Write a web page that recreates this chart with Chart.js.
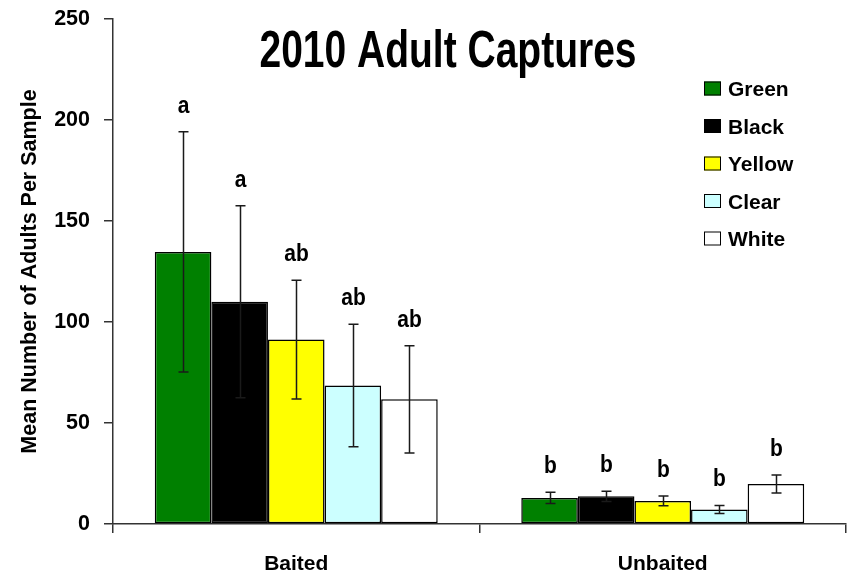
<!DOCTYPE html>
<html>
<head>
<meta charset="utf-8">
<script src="https://cdn.jsdelivr.net/npm/chart.js@4/dist/chart.umd.min.js"></script>
<style>
  html, body { margin: 0; padding: 0; background: #ffffff; }
  #wrap { width: 855px; height: 580px; }
</style>
</head>
<body>
<div id="wrap"><canvas id="chart" width="855" height="580"></canvas></div>
<script>
// Trap treatments and trap colours
const groups = ['Baited', 'Unbaited'];
const trapColours = ['Green', 'Black', 'Yellow', 'Clear', 'White'];
const fillColours = ['#008000', '#000000', '#ffff00', '#ccffff', '#ffffff'];

// Mean adults per sample for each trap colour, [Baited, Unbaited]
const greenMeans  = [134.7, 12.9];
const blackMeans  = [110.0, 13.7];
const yellowMeans = [91.3, 11.4];
const clearMeans  = [68.6, 7.2];
const whiteMeans  = [61.7, 19.8];

// Standard errors, [Baited, Unbaited]
const greenErr  = [59.5, 2.8];
const blackErr  = [47.5, 2.5];
const yellowErr = [29.4, 2.4];
const clearErr  = [30.3, 2.0];
const whiteErr  = [26.5, 4.4];

// Mean separation letters, [Baited, Unbaited]
const greenSig  = ['a', 'b'];
const blackSig  = ['a', 'b'];
const yellowSig = ['ab', 'b'];
const clearSig  = ['ab', 'b'];
const whiteSig  = ['ab', 'b'];

const yTicks = [0, 50, 100, 150, 200, 250];

const means = [greenMeans, blackMeans, yellowMeans, clearMeans, whiteMeans];
const errs = [greenErr, blackErr, yellowErr, clearErr, whiteErr];
const sigs = [greenSig, blackSig, yellowSig, clearSig, whiteSig];

const FONT = '"Liberation Sans", Arial, sans-serif';

const datasets = trapColours.map((name, i) => ({
  label: name,
  data: means[i],
  errors: errs[i],
  letters: sigs[i],
  backgroundColor: fillColours[i],
  borderColor: '#000000',
  borderWidth: 1.5,
  borderSkipped: false,
  categoryPercentage: 0.772,
  barPercentage: 1.0
}));

// Tall text: draw with a vertical stretch around the baseline
function tallText(ctx, text, x, y, sy) {
  ctx.save();
  ctx.translate(x, y);
  ctx.scale(1, sy);
  ctx.fillText(text, 0, 0);
  ctx.restore();
}

// Error bars with caps, plus letters above them
const errorBars = {
  id: 'errorBars',
  afterDatasetsDraw(chart) {
    const ctx = chart.ctx;
    const y = chart.scales.y;
    ctx.save();
    chart.data.datasets.forEach((ds, i) => {
      const meta = chart.getDatasetMeta(i);
      meta.data.forEach((bar, j) => {
        const v = ds.data[j], e = ds.errors[j];
        const top = y.getPixelForValue(v + e);
        const bot = y.getPixelForValue(v - e);
        const x = Math.round(bar.x) + 0.5;
        ctx.strokeStyle = '#1a1a1a';
        ctx.lineWidth = 1.5;
        ctx.beginPath();
        ctx.moveTo(x, top); ctx.lineTo(x, bot);
        ctx.moveTo(x - 5, top); ctx.lineTo(x + 5, top);
        ctx.moveTo(x - 5, bot); ctx.lineTo(x + 5, bot);
        ctx.stroke();
        ctx.fillStyle = '#000000';
        ctx.font = 'bold 21px ' + FONT;
        ctx.textAlign = 'center';
        ctx.textBaseline = 'alphabetic';
        tallText(ctx, ds.letters[j], x, top - 19, 1.12);
      });
    });
    ctx.restore();
  }
};

// Title and legend drawn inside the plot area
const overlay = {
  id: 'overlay',
  afterDraw(chart) {
    const ctx = chart.ctx;
    ctx.save();
    ctx.fillStyle = '#000000';
    ctx.font = 'bold 39px ' + FONT;
    ctx.textAlign = 'center';
    ctx.textBaseline = 'alphabetic';
    tallText(ctx, '2010 Adult Captures', 448, 66.5, 1.33);

    ctx.font = 'bold 21px ' + FONT;
    ctx.textAlign = 'left';
    ctx.textBaseline = 'alphabetic';
    chart.data.datasets.forEach((ds, i) => {
      const cy = 88.5 + i * 37.5;
      ctx.fillStyle = ds.backgroundColor;
      ctx.fillRect(704, cy - 7, 17, 14);
      ctx.strokeStyle = '#000000';
      ctx.lineWidth = 1;
      ctx.strokeRect(704.5, cy - 6.5, 16, 13);
      ctx.fillStyle = '#000000';
      ctx.fillText(ds.label, 728, cy + 7.5);
    });
    ctx.restore();
  }
};

new Chart(document.getElementById('chart'), {
  type: 'bar',
  data: { labels: groups, datasets },
  options: {
    responsive: false,
    animation: false,
    devicePixelRatio: 1,
    layout: { padding: { top: 19, right: 9, left: 0, bottom: 0 } },
    plugins: { legend: { display: false }, tooltip: { enabled: false } },
    scales: {
      x: {
        type: 'category',
        offset: true,
        grid: { display: true, drawOnChartArea: false, drawTicks: true, tickLength: 9, color: '#333333', lineWidth: 1.5, offset: true },
        border: { display: true, color: '#333333', width: 1.5 },
        ticks: { color: '#000000', font: { family: FONT, size: 21, weight: 'bold' }, padding: 19 },
        afterFit(s) { s.height = 56; s.paddingLeft = 0; s.paddingRight = 0; }
      },
      y: {
        min: 0,
        max: 250,
        afterBuildTicks(s) { s.ticks = yTicks.map(v => ({ value: v })); },
        grid: { display: true, drawOnChartArea: false, drawTicks: true, tickLength: 9, color: '#333333', lineWidth: 1.5 },
        border: { display: true, color: '#333333', width: 1.5 },
        ticks: { color: '#000000', font: { family: FONT, size: 21.5, weight: 'bold' }, padding: 14 },
        title: { display: true, text: 'Mean Number of Adults Per Sample', color: '#000000', font: { family: FONT, size: 21.5, weight: 'bold' }, padding: { top: 17, bottom: 0 } },
        afterFit(s) { s.width = 113; s.paddingTop = 0; s.paddingBottom = 0; }
      }
    }
  },
  plugins: [errorBars, overlay]
});
</script>
</body>
</html>
